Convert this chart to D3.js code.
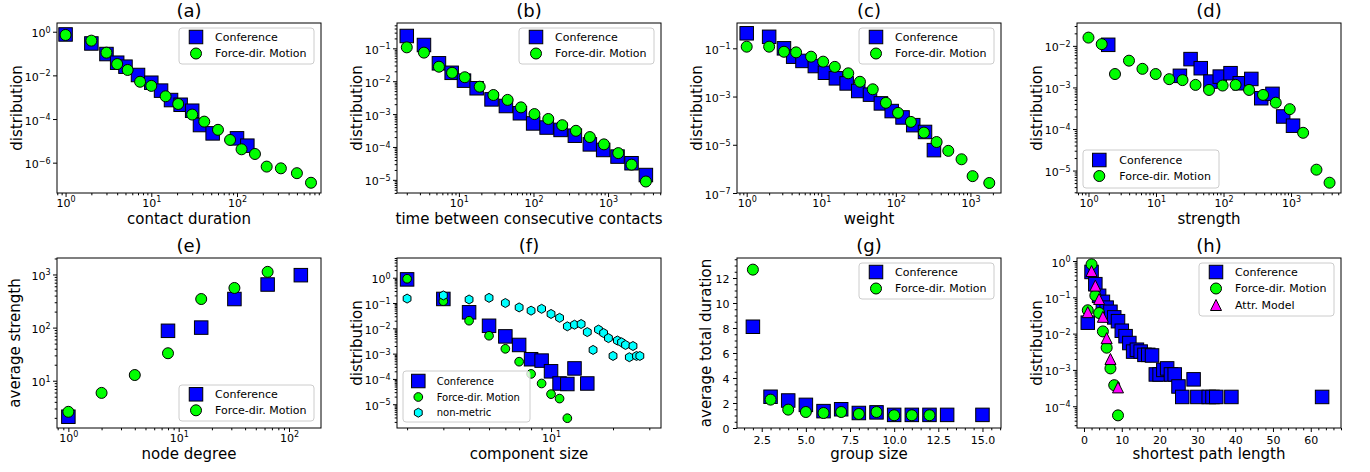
<!DOCTYPE html>
<html>
<head>
<meta charset="utf-8">
<script src="https://cdn.jsdelivr.net/npm/d3@7/dist/d3.min.js"></script>
<style>
  body { margin: 0; background: #fff; }
  svg text { font-family: "DejaVu Sans", sans-serif; fill: #000; }
</style>
</head>
<body>
<div id="chart"></div>
<script>
// ---------- data ----------
// (a) contact duration
const aConfX = [1, 2, 3, 4, 5, 7, 10, 13, 17, 22, 30, 37, 52, 100, 132];
const aConfY = [0.75, 0.29, 0.095, 0.038, 0.025, 0.0104, 0.0046, 0.002, 0.00074, 0.00045, 0.00024, 5.3e-5, 2.2e-5, 1.3e-5, 6e-6];
const aFdmX = [1, 2, 3, 4, 5.3, 7.4, 10, 14.7, 20.6, 30, 41.5, 60, 83, 113, 162, 222, 325, 500, 730];
const aFdmY = [0.71, 0.39, 0.11, 0.033, 0.0177, 0.0051, 0.0033, 0.0011, 0.00049, 1.6e-4, 7.6e-5, 3.2e-5, 1.1e-5, 4.1e-6, 2.5e-6, 6.6e-7, 5.5e-7, 3.3e-7, 1.2e-7];

// (b) time between consecutive contacts
const bConfX = [2, 3.4, 5.4, 8, 11.7, 17.3, 27.4, 42.7, 65.8, 99, 150, 231, 359, 570, 860, 1340, 2065, 3215];
const bConfY = [0.237, 0.126, 0.035, 0.018, 0.0104, 0.0061, 0.0028, 0.00176, 0.00106, 5.2e-4, 3.9e-4, 3.3e-4, 2.2e-4, 1.2e-4, 8.1e-5, 5.1e-5, 3.2e-5, 1.4e-5];
const bFdmX = [2, 3.4, 5.4, 8.1, 12, 19, 29, 45, 68, 103, 158, 243, 371, 570, 880, 1370, 2065, 3215];
const bFdmY = [0.107, 0.074, 0.0276, 0.018, 0.0132, 0.0068, 0.0038, 0.0027, 0.0016, 0.001, 7.1e-4, 4.6e-4, 3.1e-4, 2.0e-4, 1.2e-4, 6.5e-5, 2.9e-5, 8.9e-6];

// (c) weight
const cConfX = [1, 2, 3.16, 4.2, 5.6, 8.2, 11.2, 15.7, 21.9, 31.3, 45, 63, 88, 123, 171, 246, 324];
const cConfY = [0.42, 0.30, 0.1, 0.045, 0.03, 0.0184, 0.0097, 0.0057, 0.0035, 0.0017, 0.0012, 5.2e-4, 2.5e-4, 1.36e-4, 6.5e-5, 3.4e-5, 6.0e-6];
const cFdmX = [1, 2, 3.16, 4.6, 7.3, 10.6, 15.2, 23, 33, 49, 73.6, 107, 159, 238, 352, 505, 760, 1070, 1790];
const cFdmY = [0.117, 0.117, 0.072, 0.068, 0.045, 0.028, 0.017, 0.0092, 0.0041, 0.002, 5.5e-4, 2.1e-4, 8.9e-5, 3.2e-5, 1.3e-5, 5.6e-6, 2.5e-6, 5e-7, 2.6e-7];

// (d) strength
const dConfX = [1.96, 22.6, 32.5, 46, 64, 88, 127, 174, 258, 362, 531, 765, 1070];
const dConfY = [0.0106, 0.0019, 0.0048, 0.0029, 0.00138, 0.00182, 0.0022, 0.00126, 0.0016, 5.5e-4, 7.0e-4, 2.0e-4, 1.2e-4];
const dFdmX = [1, 1.57, 2.47, 3.98, 6.3, 9.9, 15.7, 24.7, 38.5, 61, 97, 151, 239, 385, 594, 957, 1510, 2380, 3720];
const dFdmY = [0.0158, 0.011, 0.0021, 0.0044, 0.0028, 0.0021, 0.00158, 0.0015, 0.00115, 8.7e-4, 0.00111, 0.00115, 8.7e-4, 6.6e-4, 4.3e-4, 3.0e-4, 8.1e-5, 1.05e-5, 5.1e-6];

// (e) node degree vs average strength
const eConfX = [1, 8, 16, 32, 64, 128];
const eConfY = [2.1, 87, 100, 345, 647, 970];
const eFdmX = [1, 2, 4, 8, 16, 32, 64];
const eFdmY = [2.6, 5.9, 12.8, 32.9, 345, 557, 1120];

// (f) component size
const fConfX = [2, 3, 4, 5, 6, 7, 8, 9, 10, 11, 12, 13, 15];
const fConfY = [0.86, 0.145, 0.043, 0.0126, 0.0048, 0.0022, 6e-4, 5.3e-4, 2.0e-4, 6.6e-5, 6.3e-5, 2.6e-4, 6.6e-5];
const fFdmX = [2, 3, 4, 5, 6, 7, 8, 9, 10, 11, 12];
const fFdmY = [0.91, 0.118, 0.02, 0.0051, 0.00155, 4.8e-4, 1.58e-4, 6.6e-5, 2.5e-5, 1.67e-5, 2.8e-6];
const fNmX = [2, 3, 4, 5, 6, 7, 8, 9, 10, 11, 12, 13, 14, 15, 16, 17, 18, 19, 20, 21, 22, 23, 24, 25, 26, 27];
const fNmY = [0.15, 0.2, 0.138, 0.16, 0.1, 0.067, 0.05, 0.059, 0.037, 0.026, 0.012, 0.0139, 0.0148, 0.0071, 0.0014, 0.0089, 0.0065, 0.0041, 8.1e-4, 0.0033, 0.0028, 0.0022, 7.2e-4, 0.002, 8.1e-4, 8.1e-4];

// (g) group size vs average total duration
const gConfX = [2, 3, 4, 5, 6, 7, 8, 9, 10, 11, 12, 13, 15];
const gConfY = [8.1, 2.5, 2.2, 1.85, 1.35, 1.5, 1.2, 1.25, 1.05, 1.05, 1.05, 1.05, 1.05];
const gFdmX = [2, 3, 4, 5, 6, 7, 8, 9, 10, 11, 12];
const gFdmY = [12.67, 2.27, 1.47, 1.28, 1.2, 1.28, 1.12, 1.28, 1.02, 1.02, 1.02];

// (h) shortest path length
const hConfX = [1, 2, 3, 4, 5, 6, 7, 8, 9, 10, 11, 12, 13, 14, 15, 16, 17, 18, 19, 20, 21, 22, 23, 24, 25, 26, 29, 30, 33, 34, 35, 39, 63];
const hConfY = [0.02, 0.5, 0.23, 0.11, 0.075, 0.052, 0.04, 0.028, 0.022, 0.012, 0.0085, 0.0055, 0.0032, 0.0036, 0.0032, 0.0026, 0.0026, 0.0025, 7.5e-4, 7.5e-4, 1.0e-3, 1.1e-3, 7.5e-4, 7.5e-4, 3.5e-4, 1.8e-4, 5.5e-4, 1.8e-4, 1.8e-4, 1.8e-4, 1.8e-4, 1.8e-4, 1.8e-4];
const hFdmX = [1, 2, 3, 4, 5, 6, 7, 8, 9];
const hFdmY = [0.044, 0.81, 0.112, 0.037, 0.0115, 0.0041, 0.0011, 3.8e-4, 5.6e-5];
const hAttrX = [1, 2, 3, 4, 5, 6, 7, 9];
const hAttrY = [0.039, 0.53, 0.21, 0.09, 0.029, 0.0075, 0.002, 3.3e-4];

// ---------- layout ----------
const BLUE = "#0000ff", GREEN = "#00ff00", CYAN = "#00ffff", MAGENTA = "#ff00ff";
const axW = 264, axH = 170;
const colX = [57, 397, 737, 1077];
const rowY = [23, 258];

const conf = (x, y) => ({ x, y, shape: "square", fill: BLUE, size: 13.5, label: "Conference" });
const fdm = (x, y, size) => ({ x, y, shape: "circle", fill: GREEN, size: size || 11, label: "Force-dir. Motion" });

const legUR = { x: 122, y: 5, w: 135, h: 36, rows: [9, 25.5], mx: 17, tx: 36, fs: 11 };

const panels = [
  { key: "a", col: 0, row: 0, title: "(a)", xLabel: "contact duration", yLabel: "distribution", yLabelX: -35.5,
    x: { type: "log", dom: [10 ** -0.1, 10 ** 2.98], ticks: [1, 10, 100], minor: true },
    y: { type: "log", dom: [10 ** -7.39, 10 ** 0.4], ticks: [1, 1e-2, 1e-4, 1e-6], minor: false },
    series: [conf(aConfX, aConfY), fdm(aFdmX, aFdmY)], legend: legUR },
  { key: "b", col: 1, row: 0, title: "(b)", xLabel: "time between consecutive contacts", yLabel: "distribution", yLabelX: -35.5,
    x: { type: "log", dom: [10 ** 0.17, 10 ** 3.71], ticks: [10, 100, 1000], minor: true },
    y: { type: "log", dom: [10 ** -5.4, 10 ** -0.23], ticks: [1e-1, 1e-2, 1e-3, 1e-4, 1e-5], minor: true },
    series: [conf(bConfX, bConfY), fdm(bFdmX, bFdmY)], legend: legUR },
  { key: "c", col: 2, row: 0, title: "(c)", xLabel: "weight", yLabel: "distribution", yLabelX: -35.5,
    x: { type: "log", dom: [10 ** -0.13, 10 ** 3.41], ticks: [1, 10, 100, 1000], minor: true },
    y: { type: "log", dom: [10 ** -7.0, 10 ** 0.05], ticks: [1e-1, 1e-3, 1e-5, 1e-7], minor: false },
    series: [conf(cConfX, cConfY), fdm(cFdmX, cFdmY)], legend: legUR },
  { key: "d", col: 3, row: 0, title: "(d)", xLabel: "strength", yLabel: "distribution", yLabelX: -35.5,
    x: { type: "log", dom: [10 ** -0.17, 10 ** 3.74], ticks: [1, 10, 100, 1000], minor: true },
    y: { type: "log", dom: [10 ** -5.54, 10 ** -1.45], ticks: [1e-2, 1e-3, 1e-4, 1e-5], minor: true },
    series: [conf(dConfX, dConfY), fdm(dFdmX, dFdmY)],
    legend: { x: 6, y: 127, w: 136, h: 38, rows: [10, 26], mx: 16.3, tx: 36.3, fs: 11 } },
  { key: "e", col: 0, row: 1, title: "(e)", xLabel: "node degree", yLabel: "average strength", yLabelX: -37,
    x: { type: "log", dom: [10 ** -0.103, 10 ** 2.29], ticks: [1, 10, 100], minor: true },
    y: { type: "log", dom: [10 ** 0.11, 10 ** 3.31], ticks: [10, 100, 1000], minor: true },
    series: [conf(eConfX, eConfY), fdm(eFdmX, eFdmY)],
    legend: { x: 122, y: 127, w: 135, h: 36, rows: [9.3, 25.3], mx: 17, tx: 36, fs: 11 } },
  { key: "f", col: 1, row: 1, title: "(f)", xLabel: "component size", yLabel: "distribution", yLabelX: -35.5,
    x: { type: "log", dom: [10 ** 0.252, 10 ** 1.534], ticks: [10], minor: true },
    y: { type: "log", dom: [10 ** -5.94, 10 ** 0.78], ticks: [1, 1e-1, 1e-2, 1e-3, 1e-4, 1e-5], minor: true },
    series: [conf(fConfX, fConfY), fdm(fFdmX, fFdmY, 8.7),
             { x: fNmX, y: fNmY, shape: "hex", fill: CYAN, size: 9, label: "non-metric" }],
    legend: { x: 6, y: 113, w: 127, h: 51, rows: [10, 26, 41.7], mx: 15.3, tx: 33.7, fs: 10 } },
  { key: "g", col: 2, row: 1, title: "(g)", xLabel: "group size", yLabel: "average total duration", yLabelX: -26.5,
    x: { type: "linear", dom: [1.1, 16.05], ticks: [2.5, 5, 7.5, 10, 12.5, 15], minorStep: 0.5, fmt: d3.format(".1f") },
    y: { type: "linear", dom: [0, 13.6], ticks: [0, 2, 4, 6, 8, 10, 12], minorStep: 0.5, fmt: d3.format("d") },
    series: [conf(gConfX, gConfY), fdm(gFdmX, gFdmY)], legend: legUR },
  { key: "h", col: 3, row: 1, title: "(h)", xLabel: "shortest path length", yLabel: "distribution", yLabelX: -35.5,
    x: { type: "linear", dom: [-1.85, 68], ticks: [0, 10, 20, 30, 40, 50, 60], minorStep: 2, fmt: d3.format("d") },
    y: { type: "log", dom: [10 ** -4.6, 10 ** 0.083], ticks: [1, 1e-1, 1e-2, 1e-3, 1e-4], minor: true },
    series: [conf(hConfX, hConfY), fdm(hFdmX, hFdmY),
             { x: hAttrX, y: hAttrY, shape: "tri", fill: MAGENTA, size: 11, label: "Attr. Model" }],
    legend: { x: 122, y: 5, w: 135, h: 53, rows: [9, 25.5, 42], mx: 17, tx: 36, fs: 11 } }
];

// ---------- drawing ----------
const svg = d3.select("#chart").append("svg")
  .attr("width", 1370).attr("height", 472);
svg.append("rect").attr("width", 1370).attr("height", 472).attr("fill", "#fff");

function marker(sel, s) {
  const h = s.size / 2;
  let m;
  if (s.shape === "square") {
    m = sel.append("rect").attr("x", -h).attr("y", -h).attr("width", s.size).attr("height", s.size);
  } else if (s.shape === "circle") {
    m = sel.append("circle").attr("r", h);
  } else if (s.shape === "hex") {
    const pts = d3.range(6).map(k => {
      const a = (-90 + 60 * k) * Math.PI / 180;
      return [h * Math.cos(a), h * Math.sin(a)];
    });
    m = sel.append("path").attr("d", "M" + pts.join("L") + "Z");
  } else {
    m = sel.append("path").attr("d", `M0,${-h}L${h},${h}L${-h},${h}Z`);
  }
  m.attr("fill", s.fill).attr("stroke", "#000").attr("stroke-width", 1);
}

function powLabel(text, d) {
  const e = Math.round(Math.log10(d));
  text.text(null);
  text.append("tspan").text("10");
  text.append("tspan").attr("font-size", 8).attr("dy", -4.5).text(e < 0 ? "\u2212" + (-e) : String(e));
}

function logMinor(dom) {
  const out = [];
  const lo = Math.floor(Math.log10(dom[0])), hi = Math.ceil(Math.log10(dom[1]));
  for (let k = lo; k <= hi; k++) {
    for (let m = 2; m <= 9; m++) {
      const v = m * Math.pow(10, k);
      if (v >= dom[0] && v <= dom[1]) out.push(v);
    }
  }
  return out;
}

function linMinor(dom, step, majors) {
  const out = [];
  const start = Math.ceil(dom[0] / step) * step;
  for (let v = start; v <= dom[1] + 1e-9; v += step) {
    const r = Math.round(v * 1000) / 1000;
    if (!majors.some(t => Math.abs(t - r) < 1e-6)) out.push(r);
  }
  return out;
}

function drawPanel(p) {
  const g = svg.append("g").attr("transform", `translate(${colX[p.col]},${rowY[p.row]})`);
  const x = (p.x.type === "log" ? d3.scaleLog() : d3.scaleLinear()).domain(p.x.dom).range([0, axW]);
  const y = (p.y.type === "log" ? d3.scaleLog() : d3.scaleLinear()).domain(p.y.dom).range([axH, 0]);

  const clipId = "clip-" + p.key;
  g.append("clipPath").attr("id", clipId)
    .append("rect").attr("width", axW).attr("height", axH);

  const plot = g.append("g").attr("clip-path", `url(#${clipId})`);
  p.series.forEach(s => {
    plot.append("g").selectAll("g")
      .data(s.x.map((v, i) => [v, s.y[i]]))
      .join("g")
      .attr("transform", d => `translate(${x(d[0])},${y(d[1])})`)
      .each(function () { marker(d3.select(this), s); });
  });

  // minor ticks
  const xMinor = p.x.type === "log" ? (p.x.minor ? logMinor(p.x.dom) : []) : linMinor(p.x.dom, p.x.minorStep, p.x.ticks);
  const yMinor = p.y.type === "log" ? (p.y.minor ? logMinor(p.y.dom) : []) : linMinor(p.y.dom, p.y.minorStep, p.y.ticks);

  g.append("g").attr("transform", `translate(0,${axH})`)
    .call(d3.axisBottom(x).tickValues(xMinor).tickSize(2.3).tickSizeOuter(0).tickFormat(""))
    .call(a => a.select(".domain").remove());
  g.append("g")
    .call(d3.axisLeft(y).tickValues(yMinor).tickSize(2.3).tickSizeOuter(0).tickFormat(""))
    .call(a => a.select(".domain").remove());

  // major ticks
  const gx = g.append("g").attr("transform", `translate(0,${axH})`)
    .call(d3.axisBottom(x).tickValues(p.x.ticks).tickSize(4).tickSizeOuter(0)
      .tickFormat(p.x.fmt || (d => d)));
  gx.select(".domain").remove();
  gx.attr("font-size", 11).attr("font-family", null);
  if (p.x.type === "log") {
    gx.selectAll(".tick text").attr("y", 13.5).attr("dy", null)
      .each(function (d) { powLabel(d3.select(this), d); });
  } else {
    gx.selectAll(".tick text").attr("y", 15.5).attr("dy", null);
  }

  const gy = g.append("g")
    .call(d3.axisLeft(y).tickValues(p.y.ticks).tickSize(4).tickSizeOuter(0)
      .tickFormat(p.y.fmt || (d => d)));
  gy.select(".domain").remove();
  gy.attr("font-size", 11).attr("font-family", null);
  if (p.y.type === "log") {
    gy.selectAll(".tick text").attr("x", -6.5).attr("y", 5).attr("dy", null)
      .each(function (d) { powLabel(d3.select(this), d); });
  } else {
    gy.selectAll(".tick text").attr("x", -7.5).attr("y", 4).attr("dy", null);
  }
  g.selectAll(".tick line").attr("stroke", "#000");

  // frame
  g.append("rect").attr("width", axW).attr("height", axH)
    .attr("fill", "none").attr("stroke", "#000").attr("stroke-width", 1);

  // legend
  const L = p.legend;
  const lg = g.append("g").attr("transform", `translate(${L.x},${L.y})`);
  lg.append("rect").attr("width", L.w).attr("height", L.h).attr("rx", 3)
    .attr("fill", "#fff").attr("fill-opacity", 0.8)
    .attr("stroke", "#cccccc").attr("stroke-width", 1);
  p.series.forEach((s, i) => {
    const row = lg.append("g").attr("transform", `translate(0,${L.rows[i]})`);
    marker(row.append("g").attr("transform", `translate(${L.mx},0)`), s);
    row.append("text").attr("x", L.tx).attr("y", L.fs * 0.36)
      .attr("font-size", L.fs).text(s.label);
  });

  // titles and labels
  g.append("text").attr("x", axW / 2).attr("y", -6)
    .attr("text-anchor", "middle").attr("font-size", 18).text(p.title);
  g.append("text").attr("x", axW / 2).attr("y", axH + 31)
    .attr("text-anchor", "middle").attr("font-size", 15).text(p.xLabel);
  g.append("text")
    .attr("transform", `translate(${p.yLabelX},${axH / 2}) rotate(-90)`)
    .attr("text-anchor", "middle").attr("font-size", 15).text(p.yLabel);
}

panels.forEach(drawPanel);
</script>
</body>
</html>
